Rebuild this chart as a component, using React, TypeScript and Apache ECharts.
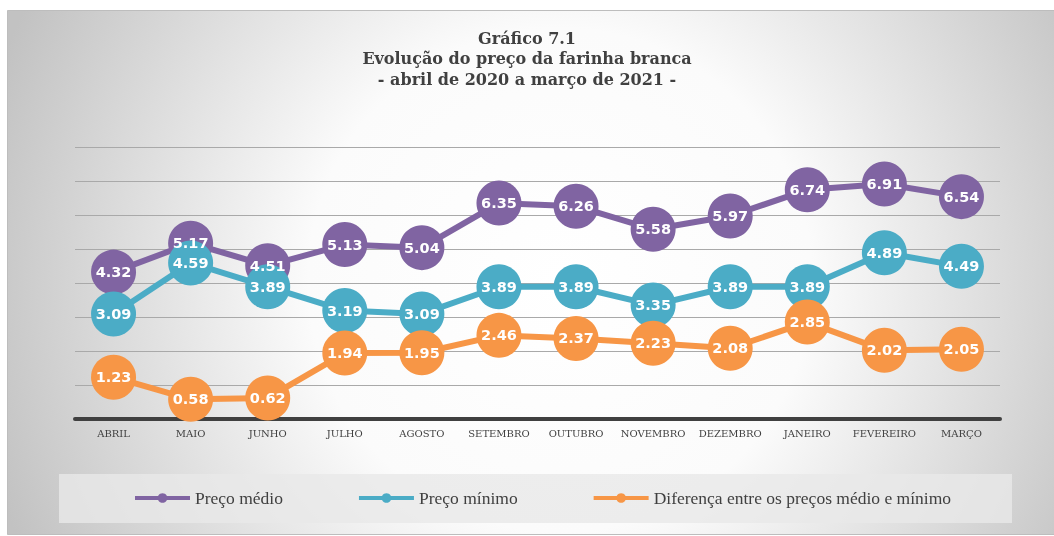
import React, { useEffect, useRef } from "react";
import * as echarts from "echarts";

const categories = ["ABRIL", "MAIO", "JUNHO", "JULHO", "AGOSTO", "SETEMBRO", "OUTUBRO", "NOVEMBRO", "DEZEMBRO", "JANEIRO", "FEVEREIRO", "MARÇO"];
const precoMedio = [4.32, 5.17, 4.51, 5.13, 5.04, 6.35, 6.26, 5.58, 5.97, 6.74, 6.91, 6.54];
const precoMinimo = [3.09, 4.59, 3.89, 3.19, 3.09, 3.89, 3.89, 3.35, 3.89, 3.89, 4.89, 4.49];
const diferenca = [1.23, 0.58, 0.62, 1.94, 1.95, 2.46, 2.37, 2.23, 2.08, 2.85, 2.02, 2.05];
const seriesNames = ["Preço médio", "Preço mínimo", "Diferença entre os preços médio e mínimo"];
const colors = ["#8064a2", "#4bacc6", "#f79646"];
const titleLines = ["Gráfico 7.1", "Evolução do preço da farinha branca", "- abril de 2020 a março de 2021 -"];

export default function App() {
  const ref = useRef<HTMLDivElement>(null);
  useEffect(() => {
    if (!ref.current) return;
    const chart = echarts.init(ref.current, null, { renderer: "svg" });
    const mk = (name: string, data: number[], color: string) => ({
      name,
      type: "line",
      data,
      symbol: "circle",
      symbolSize: 45,
      itemStyle: { color },
      lineStyle: { color, width: 6 },
      label: {
        show: true,
        position: "inside",
        color: "#ffffff",
        fontFamily: "DejaVu Sans",
        fontWeight: "bold",
        fontSize: 14.5,
        formatter: (p: any) => p.value.toFixed(2),
      },
      emphasis: { disabled: true },
    });
    const titleGraphics = titleLines.map((t, i) => ({
      type: "text",
      z: 5,
      x: 527,
      y: 38 + i * 20.5,
      style: {
        text: t,
        textAlign: "center",
        textVerticalAlign: "middle",
        fontFamily: "DejaVu Serif",
        fontWeight: "bold",
        fontSize: 16,
        fill: "#404040",
      },
      silent: true,
    }));
    chart.setOption({
      animation: false,
      color: colors,
      graphic: [
        {
          type: "rect",
          z: -10,
          shape: { x: 7.5, y: 10.5, width: 1060, height: 524 },
          style: {
            fill: new echarts.graphic.RadialGradient(560, 280, 600, [
              { offset: 0, color: "#ffffff" },
              { offset: 0.42, color: "#fbfbfb" },
              { offset: 1, color: "#c2c2c2" },
            ], true),
            stroke: "#bdbdbd",
            lineWidth: 1,
          },
          silent: true,
        },
        {
          type: "rect",
          z: -9,
          shape: { x: 59, y: 474, width: 953, height: 49 },
          style: { fill: "rgba(232,232,232,0.8)" },
          silent: true,
        },
        ...titleGraphics,
      ],
      legend: {
        left: 133,
        top: 489,
        padding: 0,
        itemGap: 74,
        itemWidth: 55,
        itemHeight: 12,
        lineStyle: { width: 4 },
        textStyle: { fontFamily: "Liberation Serif", fontSize: 17.5, color: "#404040" },
        data: seriesNames,
      },
      grid: { left: 75, right: 54, top: 147, bottom: 117 },
      xAxis: {
        type: "category",
        data: categories,
        boundaryGap: true,
        axisLine: { lineStyle: { color: "#404040", width: 4 } },
        axisTick: { show: false },
        axisLabel: { fontFamily: "DejaVu Serif", fontSize: 10, color: "#404040", margin: 9, interval: 0 },
      },
      yAxis: {
        type: "value",
        min: 0,
        max: 8,
        interval: 1,
        axisLabel: { show: false },
        axisLine: { show: false },
        axisTick: { show: false },
        splitLine: { lineStyle: { color: "#a9a9a9", width: 1.2 } },
      },
      series: [
        mk(seriesNames[0], precoMedio, colors[0]),
        mk(seriesNames[1], precoMinimo, colors[1]),
        mk(seriesNames[2], diferenca, colors[2]),
      ],
    });
    return () => chart.dispose();
  }, []);
  return <div ref={ref} style={{ position: "fixed", left: 0, top: 0, width: 1054, height: 536 }} />;
}
